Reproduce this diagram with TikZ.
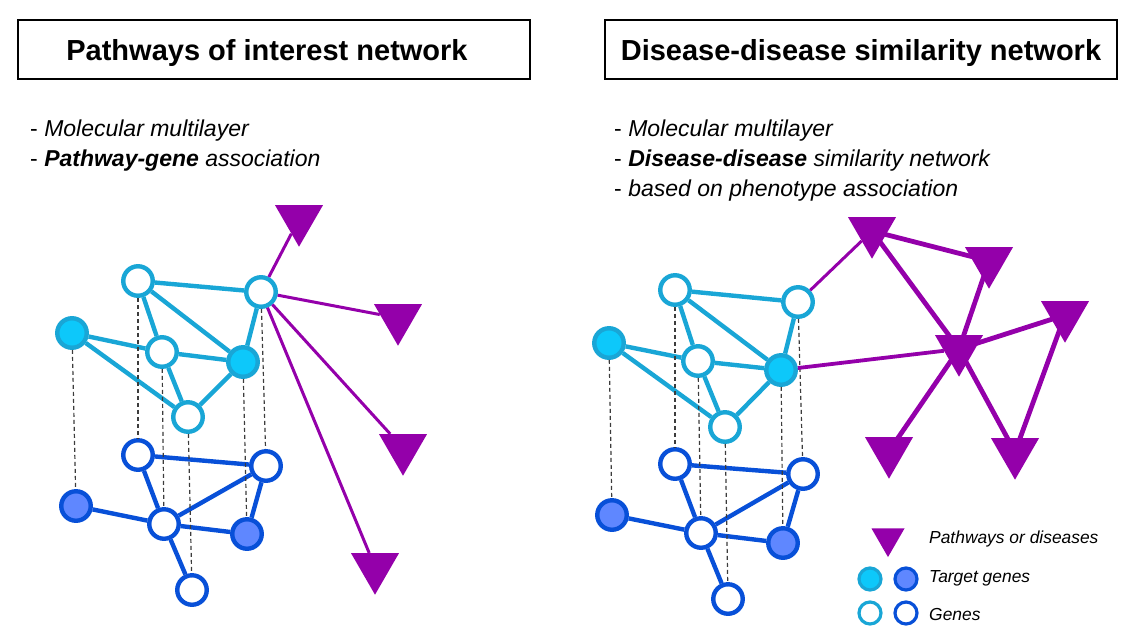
\documentclass[tikz,border=0pt]{standalone}
\usepackage{fontspec}
\setmainfont{Liberation Sans}
\usetikzlibrary{shapes.geometric}
\definecolor{lbs}{RGB}{25,166,214}
\definecolor{lbf}{RGB}{13,200,250}
\definecolor{dbs}{RGB}{8,80,216}
\definecolor{dbf}{RGB}{95,135,255}
\definecolor{purp}{RGB}{148,0,170}
\definecolor{dashc}{RGB}{60,60,60}
\begin{document}
\begin{tikzpicture}[x=1pt,y=-1pt,
  gene/.style={circle,minimum size=29.5pt,inner sep=0pt,line width=4.4pt,fill=white},
  gl/.style={gene,draw=lbs},
  gd/.style={gene,draw=dbs},
  tl/.style={gene,draw=lbs,fill=lbf},
  td/.style={gene,draw=dbs,fill=dbf},
  lgene/.style={circle,minimum size=22pt,inner sep=0pt,line width=3.2pt},
  tri/.style={regular polygon,regular polygon sides=3,shape border rotate=180,minimum size=55.4pt,inner sep=0pt,fill=purp},
  trismall/.style={tri,minimum size=38.1pt},
  le/.style={lbs,line width=4.4pt},
  de/.style={dbs,line width=4.4pt},
  vl/.style={dashc,line width=1.2pt,dash pattern=on 4pt off 3pt},
  pl/.style={purp,line width=3pt},
  pk/.style={purp,line width=4.8pt},
  titlebox/.style={draw,line width=2.3pt,minimum width=512pt,minimum height=59pt,inner sep=0pt,text height=21pt,text depth=0pt,font=\fontsize{29}{35}\selectfont\bfseries},
  txt/.style={anchor=base west,inner sep=0pt,font=\fontsize{23}{27}\selectfont},
  ltxt/.style={anchor=base west,inner sep=0pt,font=\fontsize{17.4}{21}\selectfont\itshape}
]
\useasboundingbox (0,0) rectangle (1131,630);

% titles
\node[titlebox] (t1) at (274,49.5) {Pathways of interest network\kern14pt};
\node[titlebox] (t2) at (861,49.5) {Disease-disease similarity network};

% texts
\node[txt] (a1) at (30,136) {- \textit{Molecular multilayer}};
\node[txt] (a2) at (30,166) {- \textbf{\textit{Pathway-gene}} \textit{association}};
\node[txt] (b1) at (614,136) {- \textit{Molecular multilayer}};
\node[txt] (b2) at (614,166) {- \textbf{\textit{Disease-disease}} \textit{similarity network}};
\node[txt] (b3) at (614,196) {- \textit{based on phenotype association}};

% ---------- left panel ----------
\node[tri] (T1) at (299,219) {};
\node[tri] (T2) at (398,318) {};
\node[tri] (T3) at (403,448) {};
\node[tri] (T4) at (375,567) {};

\node[gl] (A) at (138,281) {};
\node[gl] (B) at (261,292) {};
\node[tl] (C) at (72,333) {};
\node[gl] (D) at (162,352) {};
\node[tl] (E) at (243,362) {};
\node[gl] (F) at (188,417) {};

\node[gd] (G) at (138,455) {};
\node[gd] (H) at (266,466) {};
\node[td] (I) at (76,506) {};
\node[gd] (J) at (164,524) {};
\node[td] (K) at (247,534) {};
\node[gd] (L) at (192,590) {};

\draw[le] (A) -- (B);
\draw[le] (A) -- (D);
\draw[le] (A) -- (E);
\draw[le] (C) -- (D);
\draw[le] (C) -- (F);
\draw[le] (D) -- (E);
\draw[le] (D) -- (F);
\draw[le] (E) -- (F);
\draw[le] (B) -- (E);

\draw[de] (G) -- (H);
\draw[de] (G) -- (J);
\draw[de] (I) -- (J);
\draw[de] (J) -- (H);
\draw[de] (J) -- (K);
\draw[de] (K) -- (H);
\draw[de] (J) -- (L);

\draw[vl] (C) -- (I);
\draw[vl] (A) -- (G);
\draw[vl] (D) -- (J);
\draw[vl] (F) -- (L);
\draw[vl] (E) -- (K);
\draw[vl] (B) -- (H);

\draw[pl] (B) -- (T1);
\draw[pl] (B) -- (T2);
\draw[pl] (B) -- (T3);
\draw[pl] (B) -- (T4);

% ---------- right panel ----------
\node[tri] (P1) at (872,231) {};
\node[tri] (P2) at (989,261) {};
\node[tri] (P3) at (1065,315) {};
\node[tri] (P4) at (959,349) {};
\node[tri] (P5) at (889,451) {};
\node[tri] (P6) at (1015,452) {};

\node[gl] (A2) at (675,290) {};
\node[gl] (B2) at (798,302) {};
\node[tl] (C2) at (609,343) {};
\node[gl] (D2) at (698,361) {};
\node[tl] (E2) at (781,370) {};
\node[gl] (F2) at (725,427) {};

\node[gd] (G2) at (675,464) {};
\node[gd] (H2) at (803,474) {};
\node[td] (I2) at (612,515) {};
\node[gd] (J2) at (701,533) {};
\node[td] (K2) at (783,543) {};
\node[gd] (L2) at (728,599) {};

\draw[le] (A2) -- (B2);
\draw[le] (A2) -- (D2);
\draw[le] (A2) -- (E2);
\draw[le] (C2) -- (D2);
\draw[le] (C2) -- (F2);
\draw[le] (D2) -- (E2);
\draw[le] (D2) -- (F2);
\draw[le] (E2) -- (F2);
\draw[le] (B2) -- (E2);

\draw[de] (G2) -- (H2);
\draw[de] (G2) -- (J2);
\draw[de] (I2) -- (J2);
\draw[de] (J2) -- (H2);
\draw[de] (J2) -- (K2);
\draw[de] (K2) -- (H2);
\draw[de] (J2) -- (L2);

\draw[vl] (C2) -- (I2);
\draw[vl] (A2) -- (G2);
\draw[vl] (D2) -- (J2);
\draw[vl] (F2) -- (L2);
\draw[vl] (E2) -- (K2);
\draw[vl] (B2) -- (H2);

\draw[pl] (B2) -- (P1);
\draw[pl,line width=3.8pt] (E2) -- (P4);
\draw[pk] (P1.center) -- (P2.center);
\draw[pk] (P1.center) -- (P4.center);
\draw[pk] (P2.center) -- (P4.center);
\draw[pk] (P4.center) -- (P3.center);
\draw[pk] (P4.center) -- (P5.center);
\draw[pk] (P4.center) -- (P6.center);
\draw[pk] (P6.center) -- (P3.center);

% ---------- legend ----------
\node[trismall] (lt) at (888,538) {};
\node[lgene,draw=lbs,fill=lbf] (lc1) at (870,579) {};
\node[lgene,draw=dbs,fill=dbf] (lc2) at (906,579) {};
\node[lgene,draw=lbs,fill=white] (lc3) at (870,613) {};
\node[lgene,draw=dbs,fill=white] (lc4) at (906,613) {};
\node[ltxt] (lx1) at (929,543) {Pathways or diseases};
\node[ltxt] (lx2) at (929,582) {Target genes};
\node[ltxt] (lx3) at (929,620) {Genes};
\end{tikzpicture}
\end{document}
